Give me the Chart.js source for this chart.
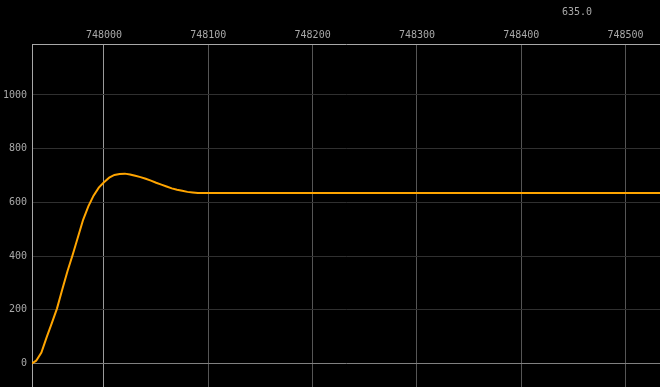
<!DOCTYPE html>
<html>
<head>
  <meta charset="UTF-8">
  <title>value trend</title>
  <script src="https://cdn.jsdelivr.net/npm/chart.js"></script>
  <style>
    html, body {
      margin: 0;
      padding: 0;
      background: #000;
    }
    #wrap {
      width: 660px;
      height: 387px;
    }
  </style>
</head>
<body>
  <div id="wrap">
    <canvas id="trend" width="660" height="387"></canvas>
  </div>

  <script>
    // samples
    const times = [
      747931, 747935, 747940, 747945, 747950, 747955, 747960, 747965, 747970, 747975,
      747980, 747985, 747990, 747995, 748000, 748005, 748010, 748015, 748020, 748025,
      748030, 748035, 748040, 748045, 748050, 748055, 748060, 748065, 748070, 748075,
      748080, 748085, 748090, 748533
    ];
    const values = [
      0, 10, 40, 97, 150, 205, 275, 343, 405, 470,
      535, 585, 625, 655, 675, 692, 702, 706, 707, 704,
      699, 694, 688, 681, 673, 666, 659, 652, 647, 643,
      639, 637, 635, 635
    ];
    const xTicks = [748000, 748100, 748200, 748300, 748400, 748500];
    const yTicks = [0, 200, 400, 600, 800, 1000];
    const xRange = [747931, 748533];
    const yRange = [-88, 1190];

    const points = times.map((t, i) => ({ x: t, y: values[i] }));
    const lastValue = values[values.length - 1];

    const readout = {
      id: 'readout',
      afterDraw(chart) {
        const ctx = chart.ctx;
        ctx.save();
        ctx.font = '10px "DejaVu Sans Mono"';
        ctx.fillStyle = '#a8a8a8';
        ctx.textAlign = 'center';
        ctx.textBaseline = 'middle';
        ctx.fillText(lastValue.toFixed(1), 577, 12);
        ctx.restore();
      }
    };

    const tickFont = { family: '"DejaVu Sans Mono"', size: 10 };

    new Chart(document.getElementById('trend').getContext('2d'), {
      type: 'line',
      data: {
        datasets: [{
          data: points,
          borderColor: '#ffa500',
          borderWidth: 2,
          pointRadius: 0,
          tension: 0,
          fill: false
        }]
      },
      options: {
        responsive: false,
        animation: false,
        layout: { padding: 0 },
        plugins: {
          legend: { display: false },
          tooltip: { enabled: false }
        },
        scales: {
          x: {
            type: 'linear',
            position: 'top',
            min: xRange[0],
            max: xRange[1],
            afterBuildTicks(scale) {
              scale.ticks = xTicks.map(v => ({ value: v }));
            },
            afterFit(scale) {
              scale.height = 44;
              scale.paddingLeft = 0;
              scale.paddingRight = 0;
            },
            ticks: {
              maxRotation: 0,
              autoSkip: false,
              padding: 3,
              color: '#a8a8a8',
              font: tickFont,
              callback: v => String(v)
            },
            grid: {
              drawTicks: false,
              color: c => (c.tick && c.tick.value === 748000) ? '#9a9a9a' : '#555555'
            },
            border: { color: '#a8a8a8' }
          },
          y: {
            min: yRange[0],
            max: yRange[1],
            afterBuildTicks(scale) {
              scale.ticks = yTicks.map(v => ({ value: v }));
            },
            afterFit(scale) {
              scale.width = 32;
              scale.paddingTop = 0;
              scale.paddingBottom = 0;
            },
            ticks: {
              padding: 5,
              color: '#a8a8a8',
              font: tickFont,
              callback: v => String(v)
            },
            grid: {
              drawTicks: false,
              color: c => (c.tick && c.tick.value === 0) ? '#808080' : '#303030'
            },
            border: { color: '#a8a8a8' }
          }
        }
      },
      plugins: [readout]
    });
  </script>
</body>
</html>
